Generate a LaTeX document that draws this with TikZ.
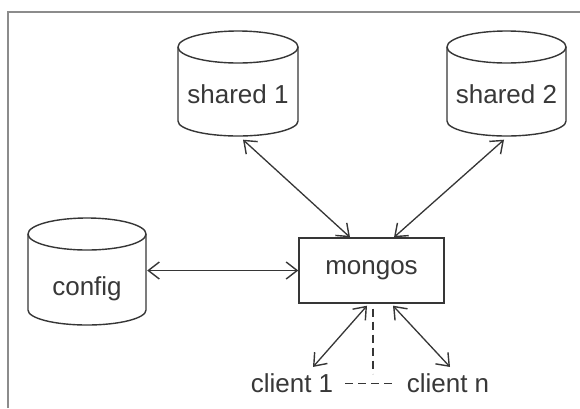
\documentclass[tikz,border=0pt]{standalone}
\usepackage{fontspec}
\setmainfont{Liberation Sans}
\usetikzlibrary{arrows.meta,calc}
\definecolor{ink}{HTML}{363636}
\definecolor{txt}{HTML}{383838}
\definecolor{framec}{HTML}{8C8C8C}
\tikzset{
  tipbarb/.tip={Straight Barb[length=11pt,width=17pt,line width=1.4pt]},
  link/.style={draw=ink, line width=1.3pt, tipbarb-tipbarb},
  dashlink/.style={draw=ink, line width=1.2pt, dash pattern=on 8pt off 5pt},
  cylline/.style={draw=ink, line width=1.4pt},
  cylbox/.style={rectangle, draw=none, inner sep=0pt},
  lbl/.style={text=txt, font=\fontsize{26}{30}\selectfont, inner sep=0pt, anchor=base},
  boxnode/.style={rectangle, draw=ink, line width=1.4pt, minimum width=145pt, minimum height=65pt, inner sep=0pt, text=txt, font=\fontsize{26}{30}\selectfont},
  framel/.style={draw=framec, line width=2pt}
}
% name, cx, top-ellipse centre (px down), bottom-ellipse centre, rx, text, text baseline
\newcommand\dbcyl[7]{%
  \node[cylbox, minimum width={2*#5pt}, minimum height={(#4-#3+31)*1pt}] (#1) at (#2,{-(#3+#4)/2}) {};
  \draw[cylline] (#2-#5,-#3) -- (#2-#5,-#4) arc[start angle=180,end angle=360,x radius=#5pt,y radius=15pt] -- (#2+#5,-#3);
  \draw[cylline] (#2,-#3) ellipse[x radius=#5pt, y radius=16pt];
  \node[lbl] (#1label) at (#2,-#7) {#6};
}
\begin{document}
\begin{tikzpicture}[x=1pt,y=1pt]
\useasboundingbox (0,0) rectangle (580,-408);
\fill[white] (0,0) rectangle (580,-408);
\draw[framel] (8,-408) -- (8,-12) -- (580,-12);

\dbcyl{s1}{238}{47}{121}{60}{shared 1}{103}
\dbcyl{s2}{506.5}{47}{121}{59.5}{shared 2}{103}
\dbcyl{cfg}{87}{234}{310}{59}{config}{295}

\node[boxnode] (m) at (371.5,-270.5) {mongos};

\node[lbl] (c1) at (292,-392) {client 1};
\node[lbl] (cn) at (448,-392) {client n};

\draw[link] ($(s1.south)+(5,-3)$) -- ($(m.north)+(-21.5,0)$);
\draw[link] ($(s2.south)+(-2.5,-3)$) -- ($(m.north)+(22.5,0)$);
\draw[link] ($(cfg.east |- m.west)+(1,0)$) -- (m.west);
\draw[link] ($(m.south)+(-4.5,-2)$) -- ($(c1.north)+(21,6)$);
\draw[link] ($(m.south)+(21.5,-2)$) -- ($(cn.north)+(2,6)$);

\coordinate (dv) at ($(m.south)+(1.5,-70)$);
\draw[dashlink] ($(m.south)+(1.5,-5)$) -- (dv);
\draw[dashlink] ($(c1.east |- m.south)+(0,-80)$) ++(12,0) coordinate (dh1) -- ($(cn.west |- m.south)+(-12,-80)$);
\end{tikzpicture}
\end{document}
